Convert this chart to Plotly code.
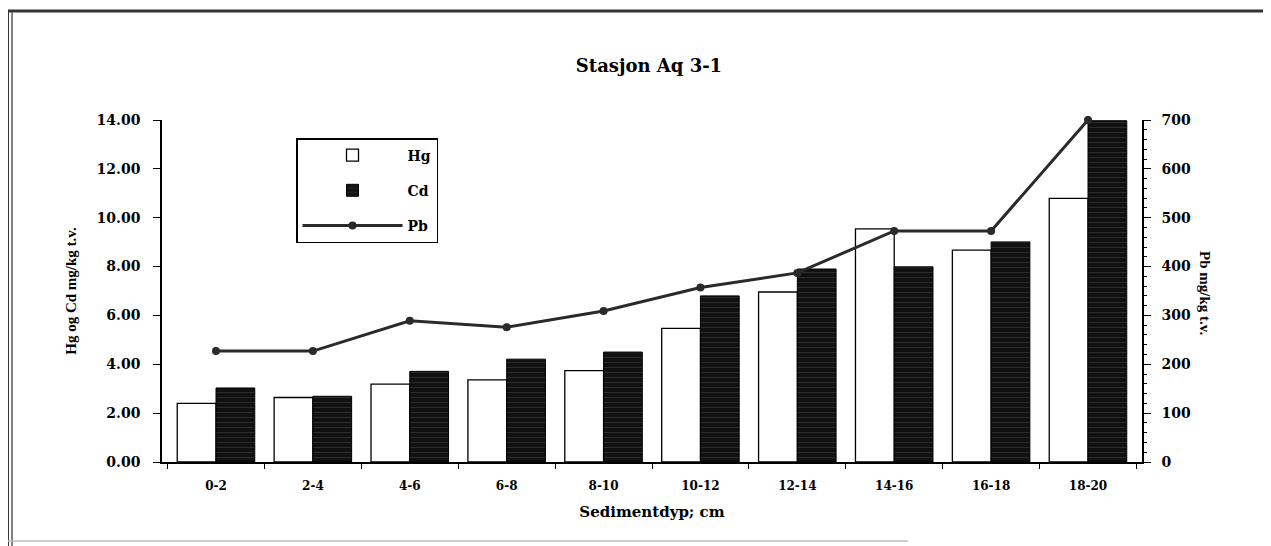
import plotly.graph_objects as go

categories = ["0-2", "2-4", "4-6", "6-8", "8-10", "10-12", "12-14", "14-16", "16-18", "18-20"]
hg = [2.40, 2.64, 3.19, 3.36, 3.74, 5.47, 6.96, 9.54, 8.67, 10.79]
cd = [3.03, 2.69, 3.71, 4.21, 4.50, 6.80, 7.90, 7.99, 9.01, 13.97]
pb = [227, 227, 289, 276, 309, 357, 387, 473, 473, 700]

TICKFONT = "DejaVu Serif"
TXTFONT = "Liberation Serif"

# figure is offset by the page's 8px body margin
W, H = 1263, 538
L, R, T, B = 154, 129, 112, 84
PW, PH = W - L - R, H - T - B


def px(xf):
    return (xf - L) / PW


def py(yf):
    return (H - B - yf) / PH


fig = go.Figure()
fig.add_trace(go.Bar(
    x=categories, y=hg, name="Hg", legendgroup="hg",
    marker=dict(color="white", line=dict(color="black", width=1.3)),
))
fig.add_trace(go.Bar(
    x=categories, y=cd, name="Cd", legendgroup="cd",
    marker=dict(color="#111111", line=dict(color="black", width=1),
                pattern=dict(shape="-", fgcolor="#6e6e6e", bgcolor="#111111",
                             size=5, solidity=0.12)),
))
fig.add_trace(go.Scatter(
    x=categories, y=pb, name="Pb", legendgroup="pb", yaxis="y2",
    mode="lines+markers", cliponaxis=False,
    line=dict(color="#2a2a2a", width=3),
    marker=dict(color="#2a2a2a", size=8, symbol="circle"),
))

fig.update_layout(
    width=W, height=H,
    margin=dict(l=L, r=R, t=T, b=B),
    paper_bgcolor="white", plot_bgcolor="white",
    font=dict(family=TXTFONT, color="black"),
    barmode="group", bargap=0.2, bargroupgap=0,
    title=dict(text="Stasjon Aq 3-1", x=641 / W, xanchor="center",
               y=1 - 58 / H, yanchor="middle",
               font=dict(family=TICKFONT, size=18, color="black", weight="bold")),
    xaxis=dict(
        type="category",
        title=dict(text="Sedimentdyp; cm",
                   font=dict(family=TICKFONT, size=15, weight="bold"), standoff=14),
        tickfont=dict(family=TICKFONT, size=12, color="black", weight="bold"),
        ticklabelstandoff=12,
        showline=True, linecolor="black", linewidth=1.5,
        ticks="outside", tickson="boundaries", ticklen=5, tickcolor="black",
        showgrid=False, zeroline=False,
    ),
    yaxis=dict(
        title=dict(text="Hg og Cd mg/kg t.v.",
                   font=dict(family=TXTFONT, size=15, weight="bold"), standoff=16),
        range=[0, 14], dtick=2, tickformat=".2f",
        tickfont=dict(family=TICKFONT, size=14, color="black", weight="bold"),
        ticklabelstandoff=10,
        showline=True, linecolor="black", linewidth=1.5,
        ticks="outside", ticklen=7, tickcolor="black",
        showgrid=False, zeroline=False,
    ),
    yaxis2=dict(
        overlaying="y", side="right",
        range=[0, 700], dtick=100,
        tickfont=dict(family=TICKFONT, size=14, color="black", weight="bold"),
        ticklabelstandoff=8,
        showline=True, linecolor="black", linewidth=1.5,
        ticks="outside", ticklen=7, tickcolor="black",
        minor=dict(dtick=20, ticks="outside", ticklen=3, tickcolor="black"),
        showgrid=False, zeroline=False,
    ),
    legend=dict(
        x=px(288), y=py(130), xanchor="left", yanchor="top",
        bgcolor="white", bordercolor="black", borderwidth=1.5,
        font=dict(family=TICKFONT, size=14, color="black", weight="bold"),
        tracegroupgap=14, itemwidth=100,
    ),
    showlegend=True,
    annotations=[
        dict(text="Pb mg/kg t.v.", textangle=90, xref="paper", yref="paper",
             x=px(1207), y=py(285), showarrow=False,
             font=dict(family=TXTFONT, size=15, color="black", weight="bold")),
    ],
    shapes=[
        # scanned page frame
        dict(type="line", xref="paper", yref="paper",
             x0=px(0), x1=px(1263), y0=py(3), y1=py(3),
             line=dict(color="#333333", width=3)),
        dict(type="line", xref="paper", yref="paper",
             x0=px(0), x1=px(0), y0=py(2), y1=py(538),
             line=dict(color="#333333", width=2)),
        dict(type="line", xref="paper", yref="paper",
             x0=px(4), x1=px(4), y0=py(4), y1=py(538),
             line=dict(color="#555555", width=1.5)),
        dict(type="line", xref="paper", yref="paper",
             x0=px(1258), x1=px(1258), y0=py(3), y1=py(470),
             line=dict(color="#555555", width=1.5)),
        dict(type="line", xref="paper", yref="paper",
             x0=px(0), x1=px(900), y0=py(533), y1=py(533),
             line=dict(color="#bbbbbb", width=1.5)),
    ],
)

fig.write_html("out.html")
